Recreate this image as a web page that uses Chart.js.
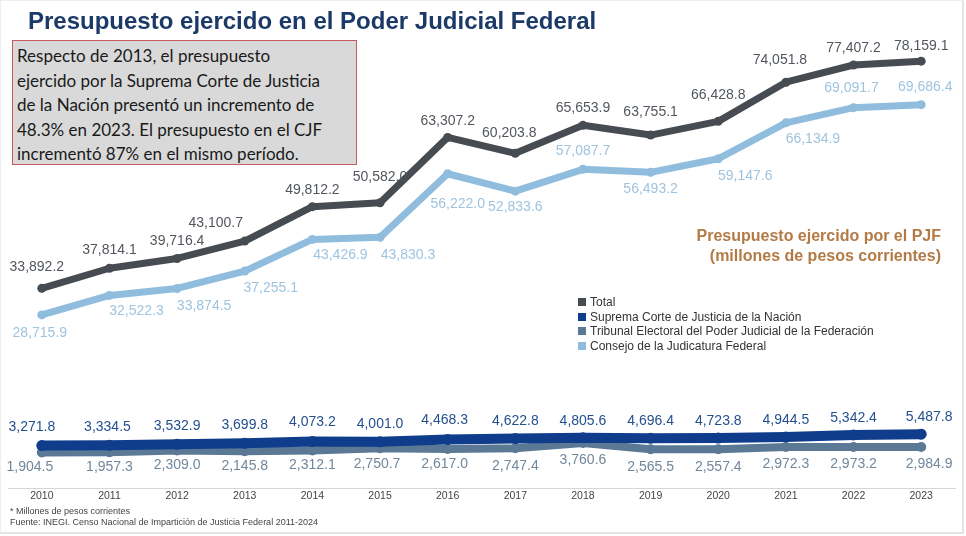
<!DOCTYPE html>
<html>
<head>
<meta charset="utf-8">
<script src="https://cdn.jsdelivr.net/npm/chart.js@4.4.1/dist/chart.umd.min.js"></script>
<style>
  html, body { margin: 0; padding: 0; background: #fff; }
  #wrap { position: relative; width: 966px; height: 536px; overflow: hidden; }
  #frame { position: absolute; left: 0; top: 0; width: 964px; height: 534px; box-sizing: border-box;
           border: 1px solid #eceeef; border-right: 2px solid #e2e5e7; border-bottom: 2px solid #e2e5e7; }
  canvas { position: absolute; left: 0; top: 0; }
  #title { position: absolute; left: 28px; top: 7px; white-space: nowrap;
           font: bold 24px "Liberation Sans", Arial, sans-serif; color: #1b3a68; }
  #note { position: absolute; left: 12px; top: 40px; width: 345px; height: 125px; box-sizing: border-box;
          background: #d9d9d9; border: 1.5px solid #c75a5e; padding: 3px 4px 0 4px; white-space: nowrap;
          font: 17px Lato, "Open Sans", sans-serif; line-height: 24.6px; color: #1a1a1a; }
  #sub { position: absolute; right: 25px; top: 226px; text-align: right;
         font: bold 16px "Liberation Sans", Arial, sans-serif; line-height: 20px; color: #b37a45; }
  #legend { position: absolute; left: 578px; top: 295px;
            font: 12px "Liberation Sans", Arial, sans-serif; line-height: 14.7px; color: #333; }
  #legend span.sq { display: inline-block; width: 8px; height: 8px; margin-right: 4px; vertical-align: 0px; }
  #foot { position: absolute; left: 10px; top: 506px;
          font: 9px "Liberation Sans", Arial, sans-serif; line-height: 10.5px; color: #444; }
</style>
</head>
<body>
<div id="wrap">
  <canvas id="pjfChart" width="966" height="536"></canvas>
  <div id="frame"></div>
  <div id="title">Presupuesto ejercido en el Poder Judicial Federal</div>
  <div id="note">Respecto de 2013, el presupuesto<br>ejercido por la Suprema Corte de Justicia<br>de la Nación presentó un incremento de<br>48.3% en 2023. El presupuesto en el CJF<br>incrementó 87% en el mismo período.</div>
  <div id="sub">Presupuesto ejercido por el PJF<br>(millones de pesos corrientes)</div>
  <div id="legend"></div>
  <div id="foot">* Millones de pesos corrientes<br>Fuente: INEGI. Censo Nacional de Impartición de Justicia Federal 2011-2024</div>
</div>
<script>
var years = ['2010', '2011', '2012', '2013', '2014', '2015', '2016', '2017', '2018', '2019', '2020', '2021', '2022', '2023'];
var total = [33892.2, 37814.1, 39716.4, 43100.7, 49812.2, 50582.0, 63307.2, 60203.8, 65653.9, 63755.1, 66428.8, 74051.8, 77407.2, 78159.1];
var scjn = [3271.8, 3334.5, 3532.9, 3699.8, 4073.2, 4001.0, 4468.3, 4622.8, 4805.6, 4696.4, 4723.8, 4944.5, 5342.4, 5487.8];
var tepjf = [1904.5, 1957.3, 2309.0, 2145.8, 2312.1, 2750.7, 2617.0, 2747.4, 3760.6, 2565.5, 2557.4, 2972.3, 2973.2, 2984.9];
var cjf = [28715.9, 32522.3, 33874.5, 37255.1, 43426.9, 43830.3, 56222.0, 52833.6, 57087.7, 56493.2, 59147.6, 66134.9, 69091.7, 69686.4];

// where each value label sits relative to its point (dx, dy)
var totalLbl = [[-5,-21],[0,-18],[0,-17],[-29,-18],[0,-17],[0,-26],[0,-16],[-6,-20],[0,-17],[0,-23],[0,-26],[-6,-22],[0,-17],[0,-15]];
var scjnLbl = [[-10,-18],[-2,-18],[0,-18],[0,-18],[0,-19],[0,-18],[-3,-19],[0,-17],[0,-17],[0,-17],[0,-17],[0,-17],[0,-17],[8,-17]];
var tepjfLbl = [[-12,15],[0,15],[0,15],[0,15],[0,15],[-3,16],[-3,15],[0,18],[0,17],[0,18],[0,18],[0,17],[0,17],[8,17]];
var cjfLbl = [[-2,18],[27,16],[27,18],[26,17],[28,16],[28,18],[10,30],[0,16],[0,-18],[0,17],[27,17],[27,16],[-2,-20],[4,-17]];

var fmt = function (v) {
	return v.toLocaleString('en-US', { minimumFractionDigits: 1, maximumFractionDigits: 1 });
};

var valueLabels = {
	id: 'valueLabels',
	afterDatasetsDraw: function (chart) {
		var ctx = chart.ctx;
		ctx.save();
		ctx.font = '14px "Liberation Sans", Arial, sans-serif';
		ctx.textAlign = 'center';
		ctx.textBaseline = 'middle';
		chart.data.datasets.forEach(function (ds, i) {
			var meta = chart.getDatasetMeta(i);
			ctx.fillStyle = ds.labelColor;
			meta.data.forEach(function (pt, j) {
				var off = ds.labelOffsets[j];
				ctx.fillText(fmt(ds.data[j]), pt.x + off[0], pt.y + off[1]);
			});
		});
		ctx.restore();
	}
};

var ctx = document.getElementById('pjfChart').getContext('2d');
var chart = new Chart(ctx, {
	type: 'line',
	plugins: [valueLabels],
	data: {
		labels: years,
		datasets: [{
			label: 'Total',
			data: total,
			borderColor: '#474b52',
			backgroundColor: '#474b52',
			labelColor: '#52575e',
			labelOffsets: totalLbl,
			borderWidth: 7,
			pointRadius: 4.5
		}, {
			label: 'Suprema Corte de Justicia de la Nación',
			data: scjn,
			borderColor: '#0f3d8c',
			backgroundColor: '#0f3d8c',
			labelColor: '#24508f',
			labelOffsets: scjnLbl,
			borderWidth: 10,
			pointRadius: 5.5
		}, {
			label: 'Tribunal Electoral del Poder Judicial de la Federación',
			data: tepjf,
			borderColor: '#5b7995',
			backgroundColor: '#5b7995',
			labelColor: '#71879c',
			labelOffsets: tepjfLbl,
			borderWidth: 8,
			pointRadius: 5
		}, {
			label: 'Consejo de la Judicatura Federal',
			data: cjf,
			borderColor: '#90bddd',
			backgroundColor: '#90bddd',
			labelColor: '#9fc4df',
			labelOffsets: cjfLbl,
			borderWidth: 7,
			pointRadius: 4.5
		}]
	},
	options: {
		responsive: false,
		animation: false,
		devicePixelRatio: 1,
		layout: { padding: { left: 8, right: 11, top: 0, bottom: 0 } },
		datasets: {
			line: { pointBorderWidth: 0, pointHoverRadius: 5 }
		},
		elements: {
			line: { tension: 0, borderJoinStyle: 'round', borderCapStyle: 'round' }
		},
		plugins: {
			legend: { display: false },
			tooltip: { enabled: false }
		},
		scales: {
			x: {
				offset: true,
				grid: { display: false, drawTicks: false },
				border: { display: true, color: '#d6d6d6', width: 1 },
				ticks: { color: '#444', padding: 2, font: { family: '"Liberation Sans", Arial, sans-serif', size: 10.5 } },
				afterFit: function (axis) { axis.height = 48; }
			},
			y: {
				display: false,
				min: -5000,
				max: 89000
			}
		}
	}
});

// legend built from the chart's datasets
var legendEl = document.getElementById('legend');
chart.data.datasets.forEach(function (ds) {
	var row = document.createElement('div');
	var sq = document.createElement('span');
	sq.className = 'sq';
	sq.style.background = ds.borderColor;
	row.appendChild(sq);
	row.appendChild(document.createTextNode(ds.label));
	legendEl.appendChild(row);
});
</script>
</body>
</html>
